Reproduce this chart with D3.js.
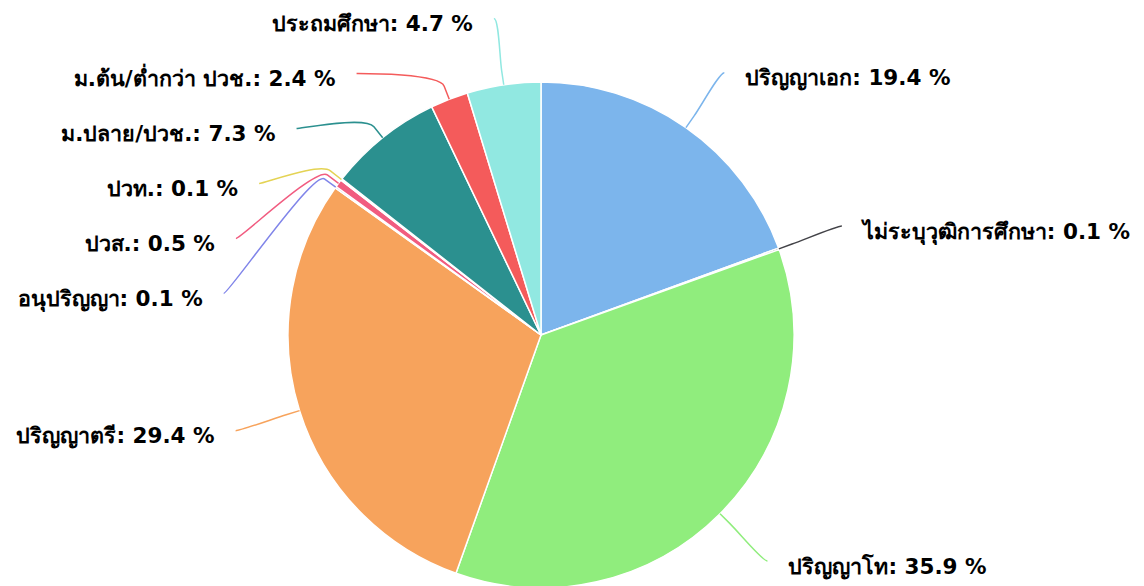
<!DOCTYPE html>
<html>
<head>
<meta charset="utf-8">
<script src="https://cdn.jsdelivr.net/npm/d3@7"></script>
<style>
  body { margin: 0; background: #fff; }
  .lbl { font-family: "DejaVu Sans", sans-serif; font-weight: bold; font-size: 21.5px; fill: #000; }
</style>
</head>
<body>
<div id="chart"></div>
<script>
// education level shares (%), clockwise from 12 o'clock
const categories = ["ปริญญาเอก", "ไม่ระบุวุฒิการศึกษา", "ปริญญาโท", "ปริญญาตรี", "อนุปริญญา",
                    "ปวส.", "ปวท.", "ม.ปลาย/ปวช.", "ม.ต้น/ต่ำกว่า ปวช.", "ประถมศึกษา"];
const shares = [19.4, 0.1, 35.9, 29.4, 0.1, 0.5, 0.1, 7.3, 2.4, 4.7];
const colors = ["#7cb5ec", "#434348", "#90ed7d", "#f7a35c", "#8085e9",
                "#f15c80", "#e4d354", "#2b908f", "#f45b5b", "#91e8e1"];

const width = 1144, height = 586;
const cx = 541, cy = 335, radius = 253;
const labelDistance = 67;
const breakOffset = 14;
const labelSpacing = 55;

const svg = d3.select("#chart").append("svg")
    .attr("width", width)
    .attr("height", height);

const pie = d3.pie().sort(null).value(d => d.value);
const data = pie(categories.map((c, i) => ({name: c, value: shares[i], color: colors[i]})));

const arc = d3.arc().innerRadius(0).outerRadius(radius);

const g = svg.append("g").attr("transform", `translate(${cx},${cy})`);

g.selectAll("path.slice").data(data)
    .join("path")
    .attr("class", "slice")
    .attr("d", arc)
    .attr("fill", d => d.data.color)
    .attr("stroke", "#fff")
    .attr("stroke-width", 1.5)
    .attr("stroke-linejoin", "round");

// label placement: natural spot on an outer circle, then push overlapping labels down
const R = radius + labelDistance;
data.forEach(d => {
    d.mid = (d.startAngle + d.endAngle) / 2;
    d.right = Math.sin(d.mid) >= 0;
    d.lx = R * Math.sin(d.mid);
    d.ly = -R * Math.cos(d.mid);
});

[true, false].forEach(side => {
    let group = data.filter(d => d.right === side).sort((a, b) => a.ly - b.ly);
    let prev = -Infinity;
    group.forEach(d => {
        if (d.ly < prev + labelSpacing) {
            d.ly = prev + labelSpacing;
            let dx = Math.sqrt(Math.max(0, R * R - d.ly * d.ly));
            d.lx = side ? dx : -dx;
        }
        prev = d.ly;
    });
});

function connector(d) {
    let s = Math.sin(d.mid), c = -Math.cos(d.mid);
    let tx = radius * s, ty = radius * c;
    let bx = (radius + breakOffset) * s, by = (radius + breakOffset) * c;
    let p = d3.path();
    p.moveTo(d.lx, d.ly);
    p.bezierCurveTo(d.lx + (d.right ? -5 : 5), d.ly, 2 * bx - tx, 2 * by - ty, bx, by);
    p.lineTo(tx, ty);
    return p.toString();
}

g.selectAll("path.connector").data(data)
    .join("path")
    .attr("class", "connector")
    .attr("d", connector)
    .attr("fill", "none")
    .attr("stroke", d => d.data.color)
    .attr("stroke-width", 1.5);

g.selectAll("text.lbl").data(data)
    .join("text")
    .attr("class", "lbl")
    .attr("x", d => d.lx + (d.right ? 21 : -21))
    .attr("y", d => d.ly + 5)
    .attr("dy", "0.35em")
    .attr("text-anchor", d => d.right ? "start" : "end")
    .text(d => `${d.data.name}: ${d.data.value} %`);
</script>
</body>
</html>
